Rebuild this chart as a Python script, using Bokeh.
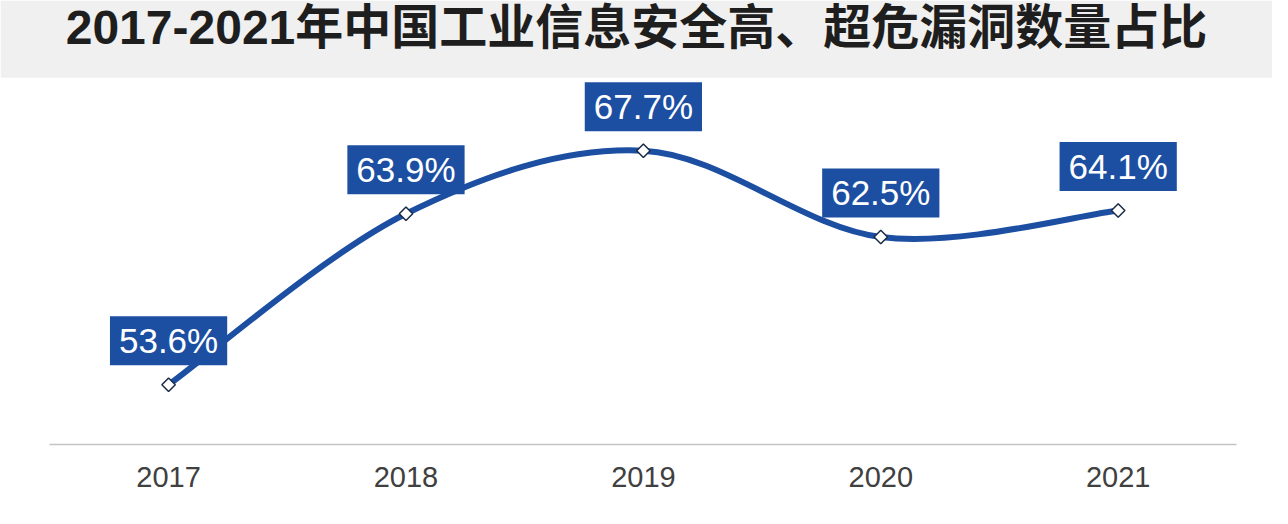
import numpy as np
from bokeh.plotting import figure
from bokeh.models import Range1d, FixedTicker, Label, BoxAnnotation
from bokeh.embed import file_html
from bokeh.resources import INLINE

years = [2017, 2018, 2019, 2020, 2021]
shares = [53.6, 63.9, 67.7, 62.5, 64.1]
share_labels = ["53.6%", "63.9%", "67.7%", "62.5%", "64.1%"]
title_text = "2017-2021年中国工业信息安全高、超危漏洞数量占比"

BLUE = "#1c4fa2"
Y0, Y1 = 46.14, 76.75        # frame spans the whole figure height
PLATE_TOP = 72.1             # where the grey title band ends

p = figure(width=1272, height=508, output_backend="svg", toolbar_location=None,
           x_range=Range1d(2016.292, 2021.65), y_range=Range1d(Y0, Y1),
           y_axis_location=None,
           min_border_left=0, min_border_right=0, min_border_bottom=0, min_border_top=0)
p.border_fill_color = "white"
p.background_fill_color = "white"
p.outline_line_color = None
p.grid.visible = False

# grey title band
p.add_layout(BoxAnnotation(bottom=PLATE_TOP, fill_color="#f0f0f0", fill_alpha=1.0,
                           line_color=None, level="underlay"))
p.add_layout(Label(x=636, y=Y1, x_units="screen",
                   text=title_text, text_align="center", text_baseline="top",
                   text_font="Liberation Sans, Noto Sans CJK SC", text_font_style="bold",
                   text_font_size="48px", text_color="#1e1e1e"))

ax = p.xaxis[0]
ax.fixed_location = 50
ax.ticker = FixedTicker(ticks=years)
ax.bounds = (2016.5, 2021.5)
ax.major_tick_line_color = None
ax.minor_tick_line_color = None
ax.axis_line_color = "#c4c4c4"
ax.axis_line_width = 1.5
ax.major_label_text_font = "Liberation Sans"
ax.major_label_text_font_size = "29px"
ax.major_label_text_color = "#404040"
ax.major_label_standoff = 17

# smooth curve (Catmull-Rom -> cubic Bezier) through the data points
xs = np.array(years, dtype=float)
ys = np.array(shares, dtype=float)
n = len(xs)
xp = np.concatenate([[xs[0]], xs, [xs[-1]]])
yp = np.concatenate([[ys[0]], ys, [ys[-1]]])
cx0 = xp[1:n] + (xp[2:n + 1] - xp[0:n - 1]) / 6
cy0 = yp[1:n] + (yp[2:n + 1] - yp[0:n - 1]) / 6
cx1 = xp[2:n + 1] - (xp[3:n + 2] - xp[1:n]) / 6
cy1 = yp[2:n + 1] - (yp[3:n + 2] - yp[1:n]) / 6
p.bezier(x0=xs[:-1], y0=ys[:-1], x1=xs[1:], y1=ys[1:],
         cx0=cx0, cy0=cy0, cx1=cx1, cy1=cy1,
         line_color=BLUE, line_width=6, line_cap="round")

p.scatter(years, shares, marker="square", angle=np.pi / 4, size=9.5,
          fill_color="white", line_color="#1a2a44", line_width=1.5)

for yr, v, lab in zip(years, shares, share_labels):
    p.add_layout(Label(x=yr, y=v, text=lab, y_offset=44,
                       text_align="center", text_baseline="middle",
                       text_color="white", text_font="Liberation Sans",
                       text_font_size="35px",
                       background_fill_color=BLUE, padding=(9, 5)))

open("out.html", "w").write(file_html(p, INLINE))
